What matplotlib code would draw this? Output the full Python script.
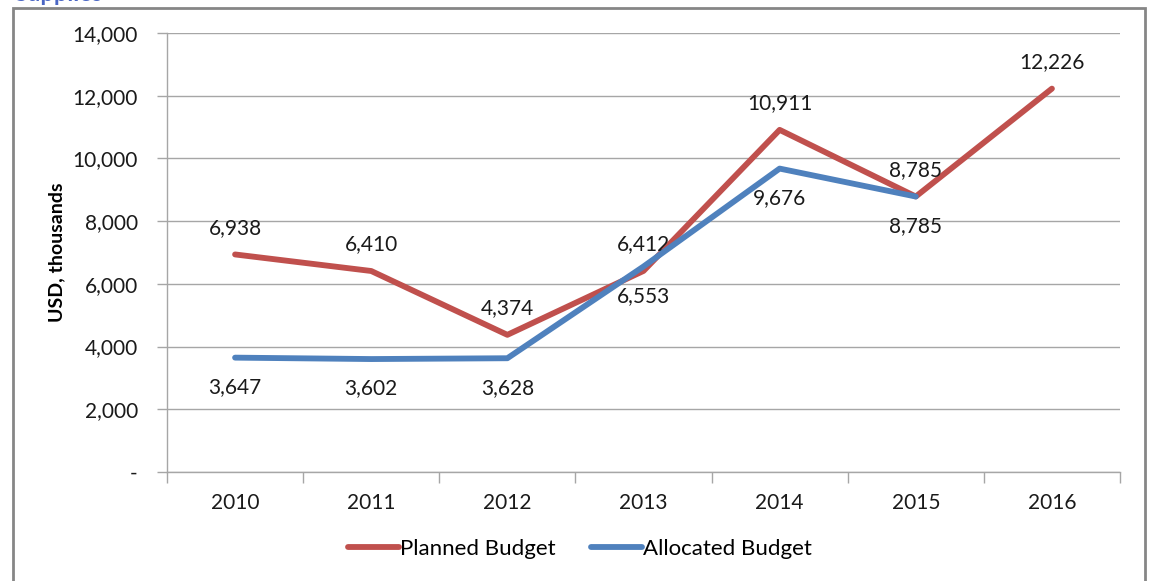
import matplotlib
matplotlib.use("Agg")
import matplotlib.pyplot as plt
from matplotlib.patches import Rectangle
from matplotlib.ticker import FuncFormatter

years = ["2010", "2011", "2012", "2013", "2014", "2015", "2016"]
planned = [6938, 6410, 4374, 6412, 10911, 8785, 12226]
allocated = [3647, 3602, 3628, 6553, 9676, 8785]

plt.rcParams["font.family"] = ["Lato", "DejaVu Sans"]

red = "#c0504d"
blue = "#4f81bd"
grid_c = "#a6a6a6"
txt_c = "#1a1a1a"

fig = plt.figure(figsize=(11.5, 5.81), dpi=100)
ax = fig.add_axes([167 / 1150, 1 - 472 / 581, (1120 - 167) / 1150, (472 - 33) / 581])

# outer chart frame and the title cut off at the top edge
fig.patches.append(Rectangle((13 / 1150, -0.1), (1145 - 13) / 1150, 1.1 - 8 / 581,
                             transform=fig.transFigure, fill=False,
                             edgecolor="#868686", lw=2))
fig.text(14 / 1150, 1 - 1 / 581, "Supplies", color="#4a66c4", fontsize=17,
         fontweight="bold", va="baseline", ha="left")

xp = list(range(len(years)))
ax.plot(xp, planned, color=red, lw=4.2, solid_capstyle="round", label="Planned Budget", zorder=3)
ax.plot(xp[:len(allocated)], allocated, color=blue, lw=4.2, solid_capstyle="round",
        label="Allocated Budget", zorder=4)

for x, v in zip(xp, planned):
    ax.annotate(f"{v:,}", (x, v), xytext=(0, 12), textcoords="offset points",
                ha="center", va="bottom", fontsize=15, color=txt_c)
for x, v in zip(xp, allocated):
    ax.annotate(f"{v:,}", (x, v), xytext=(0, -14), textcoords="offset points",
                ha="center", va="top", fontsize=15, color=txt_c)

ax.set_xlim(-0.5, len(years) - 0.5)
ax.set_ylim(0, 14000)
ax.set_yticks(range(0, 14001, 2000))
ax.yaxis.set_major_formatter(FuncFormatter(lambda v, p: "-" if v == 0 else f"{int(v):,}"))
ax.set_xticks(xp)
ax.set_xticklabels(years)
ax.set_xticks([i - 0.5 for i in range(len(years) + 1)], minor=True)
ax.tick_params(axis="x", which="major", length=0, pad=15, labelsize=15, colors=txt_c)
ax.tick_params(axis="x", which="minor", length=8, color=grid_c, width=1)
ax.tick_params(axis="y", length=7, color=grid_c, width=1, pad=14, labelsize=15, colors=txt_c)

ax.grid(axis="y", color=grid_c, lw=1)
ax.set_axisbelow(True)
for s in ["top", "right"]:
    ax.spines[s].set_visible(False)
for s in ["left", "bottom"]:
    ax.spines[s].set_color(grid_c)
    ax.spines[s].set_linewidth(1)

ax.set_ylabel("USD, thousands", fontsize=14, fontweight="bold", labelpad=5, color="black")

fig.legend(loc="center", bbox_to_anchor=(580 / 1150, 1 - 549 / 581), ncol=2, frameon=False,
           fontsize=16, handlelength=2.3, handletextpad=0.05, columnspacing=1.6)

fig.savefig("out.png", dpi=100)
